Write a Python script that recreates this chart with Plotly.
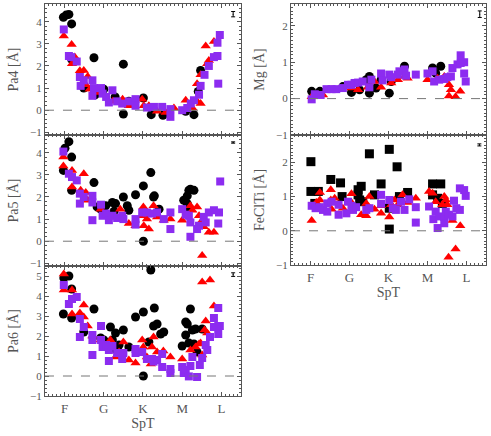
import plotly.graph_objects as go

# spectral type axis: F0=0, G0=10, K0=20, M0=30, L0=40
spt_vals = [0, 10, 20, 30, 40]
spt_text = ["F", "G", "K", "M", "L"]

# ---- Pa4 ----
pa4_black_x = [-0.3, 0.4, 1.1, 1.8, 1.8, 7.5, 15, 15, 4.9, 7.8, 10, 12.9, 16.4, 20.1, 22.1, 25.1, 30.9, 33, 34.7, 34.1]
pa4_black_y = [4.2, 4.3, 4.33, 3.9, 2.3, 2.37, 2.08, -0.17, 1.0, 0.7, 0.95, 0.6, 0.4, 0.55, -0.2, -0.23, -0.05, -0.2, 1.8, 0.85]
pa4_red_x = [-0.2, 1.8, 1.9, 2.6, 3.9, 4.9, 5.9, 5.4, 6.4, 8.9, 12.3, 14.8, 16.4, 19.8, 20.2, 21.5, 23.6, 25.8, 27.9, 30.9,
             32.6, 33.8, 33.8, 34.7, 36.4, 36, 38.1, 36.8, 34.7]
pa4_red_y = [3.35, 2.97, 2.1, 2.4, 1.78, 1.8, 1.52, 1.15, 0.95, 0.8, 0.4, 0.5, 0.2, 0.5, 0.2, 0.2, -0.05, -0.1, 0.1, 0.45,
             0.1, 0.4, 1.2, 1.6, 2.1, 2.9, 3.1, 2.25, 0.3]
pa4_purple_x = [-0.2, 1.1, 1.7, 3.1, 3.9, 4.9, 4.1, 7.1, 7.5, 7.1, 9.3, 9.7, 10.6, 11.3, 12.2, 13.4, 14.7, 16.4, 18.1, 18.1,
                21, 22.8, 24.9, 27, 27, 30, 31.3, 32.2, 33, 34.3, 34.7, 35.7, 36.8, 38.1, 39, 39, 39.6, 39.2]
pa4_purple_y = [3.65, 2.45, 2.4, 2.2, 1.5, 1.35, 1.1, 1.35, 1.0, 0.65, 1.0, 0.75, 0.6, 0.35, 0.9, 0.4, 0.3, 0.4, 0.5, 0.2,
                0.12, 0.15, 0.15, 0.05, -0.3, 0, 0.1, 0.3, 0.45, 0.7, 1.1, 1.6, 2.0, 2.4, 2.45, 3.05, 3.4, 1.2]

# ---- Pa5 ----
pa5_black_x = [0.1, 1.1, 1.8, -0.3, 1.8, 7.5, 8.3, 9.2, 10.5, 12.2, 13, 12.6, 15, 16, 16.4, 18.1, 20.1, 22, 20.1, 22.7,
               22.9, 24.1, 30.4, 31.3, 31.7, 32.1, 33, 31.3, 31.7]
pa5_black_y = [4.2, 4.5, 3.8, 3.2, 2.3, 2.65, 1.55, 1.45, 1.6, 1.75, 1.7, 1.35, 2.0, 1.6, 1.4, 2.1, 2.5, 3.1, 0.0, 2.0,
               2.05, 1.45, 1.85, 2.05, 2.3, 2.35, 2.3, 1.7, 1.45]
pa5_red_x = [-0.3, -0.3, 1.9, 1.9, 4.9, 4.1, 5.4, 5.9, 9.2, 10.9, 13, 14.2, 16.4, 18.1, 19.8, 20.1, 20.2, 21, 21.5, 22.7,
             23.6, 25.3, 27, 30, 32.1, 32.6, 33.8, 34.3, 35.5, 36.8, 38.1, 35.1, 34.7]
pa5_red_y = [3.8, 3.4, 3.2, 2.45, 3.05, 2.3, 2.2, 1.85, 1.45, 1.15, 1.1, 1.45, 0.8, 0.7, 1.15, 1.55, 0.7, 1.0, 0.55, 1.6,
             1.1, 0.95, 1.0, 0.95, 1.6, 1.4, 1.55, 1.15, 0.65, 0.4, 0.4, -0.65, 0.85]
pa5_purple_x = [-0.3, 1.1, 1.9, 3.1, 3.9, 3.9, 4.9, 7.1, 7.1, 7.1, 9.3, 9.7, 10.6, 11.3, 12.2, 13.4, 14.7, 15, 18.1, 18.1,
                19.8, 21, 22.3, 23.6, 25.3, 27, 27, 30, 30.9, 31.7, 32.1, 32.1, 33.8, 34.3, 35.5, 36, 36.8, 38.1, 39.2,
                39.4, 39.7]
pa5_purple_y = [4.05, 3.05, 2.9, 2.75, 2.15, 1.7, 2.0, 2.05, 1.75, 0.95, 1.65, 1.15, 1.25, 0.95, 1.15, 1.05, 1.15, 1.0, 1.0,
                0.75, 1.3, 1.3, 1.25, 1.3, 1.0, 0.55, 1.3, 1.45, 1.2, 1.15, 0.85, 0.2, 0.55, 0.7, 1.1, 0.85, 1.3, 1.4,
                0.8, 1.3, 2.7]

# ---- Pa6 ----
pa6_black_x = [-0.3, -0.2, 1.1, 1.8, 1.8, 4.9, 7.5, 9.2, 10, 11.7, 12.2, 13, 13, 15, 13.9, 16.4, 18.1, 20.1, 20.1, 22,
               21.5, 22.9, 22.7, 23.6, 24.5, 25.3, 30.9, 31.3, 32.1, 30.9, 32.6, 31.7, 33, 33.4, 33.8, 35.1, 30]
pa6_black_y = [3.1, 4.9, 5.0, 4.35, 2.9, 2.2, 3.35, 1.9, 1.8, 2.45, 1.8, 2.15, 1.35, 2.3, 1.55, 1.45, 2.95, 3.2, 0, 5.3,
               1.7, 3.4, 2.5, 2.6, 2.1, 2.2, 2.7, 2.6, 3.35, 2.05, 2.3, 1.65, 1.6, 2.35, 1.2, 2.35, 1.5]
pa6_red_x = [-0.2, -0.2, 1.9, 1.9, 3.9, 4.9, 4.9, 5.9, 7.1, 9.2, 10.9, 11.7, 13, 13.9, 15, 16.4, 18.1, 19.8, 20.1, 21,
             22, 22.3, 22.7, 23.6, 25.2, 27, 30, 32.1, 33.4, 34.3, 34.7, 35.1, 37.1, 36, 35.7, 36.4, 38.1, 35.1]
pa6_red_y = [5.1, 4.3, 4.3, 3.1, 3.15, 3.55, 2.95, 2.5, 2.0, 1.8, 1.55, 1.8, 0.95, 1.2, 1.7, 0.8, 0.65, 1.8, 1.45, 0.95,
             0.6, 1.45, 1.95, 1.2, 1.25, 0.95, 0.85, 1.3, 1.45, 1.6, 1.65, 4.7, 4.8, 2.75, 2.3, 2.15, 3.5, 1.05]
pa6_purple_x = [-0.2, 1.1, 1.9, 3.1, 3.9, 3.9, 4.9, 7.1, 7.1, 7.1, 9.3, 9.3, 9.7, 10.6, 11.3, 11.3, 12.2, 13.4, 14.7, 15,
                18.1, 18.1, 19.8, 21, 22.3, 22.7, 23.6, 24.9, 24.9, 27, 27, 30, 30.4, 30.9, 32.1, 31.7, 32.6, 33.8,
                34.5, 35.1, 36, 36.4, 37.1, 38.1, 38.1, 39.2, 39.2, 39.2, 39.6]
pa6_purple_y = [4.55, 3.6, 3.85, 3.95, 2.85, 1.95, 2.45, 2.05, 1.8, 1.05, 2.5, 1.8, 1.45, 1.55, 1.3, 0.75, 1.5, 1.15, 0.85,
                1.15, 1.35, 1.15, 1.2, 0.85, 0.85, 0.72, 0.8, 1.1, 0.45, 0.35, 0.15, 0.45, 0.15, 0.3, 0.5, -0.02, 0.95,
                -0.05, 0.55, 0.9, 1.55, 1.3, 1.95, 2.45, 2.9, 2.1, 2.5, 3.4, 2.5]

# ---- Mg ----
mg_black_x = [0.3, 2.4, 8.3, 10.5, 12.6, 14.3, 15.1, 15.1, 16.8, 18.1, 20.2, 20.7, 24.1, 31.3, 33.4, 32.1, 14.7]
mg_black_y = [0.2, 0.2, 0.33, 0.17, 0.24, 0.52, 0.61, 0.15, 0.29, 0.52, 0.15, 0.47, 0.89, 0.84, 0.89, 0.7, 0.47]
mg_red_x = [0.3, 3.2, 5.4, 7.5, 10.5, 12.2, 14.7, 16.4, 18.1, 20.7, 22.4, 24.1, 24.9, 30, 32.6, 35.5, 36, 35.5, 37.2, 38.4,
            34.3]
mg_red_y = [0.05, 0.1, 0.24, 0.26, 0.29, 0.24, 0.31, 0.47, 0.31, 0.43, 0.52, 0.61, 0.56, 0.52, 0.56, 0.38, 0.24, 0.07, 0.05,
            0.2, 0.61]
mg_purple_x = [0.3, 1.1, 2.6, 4.1, 5.4, 6.6, 8.3, 9.6, 10.5, 11.3, 12.2, 13.4, 15.1, 15.6, 18.1, 18.5, 20.2, 20.7, 22.4,
               22.8, 24.1, 24.5, 27, 30, 31.3, 31.7, 33, 34.3, 35.1, 36, 36.4, 37.7, 38.5, 39.4, 38.5, 39.4, 39.8]
mg_purple_y = [-0.02, 0.12, 0.1, 0.26, 0.26, 0.26, 0.29, 0.38, 0.38, 0.43, 0.44, 0.47, 0.31, 0.52, 0.69, 0.5, 0.66, 0.59,
               0.66, 0.75, 0.8, 0.63, 0.66, 0.69, 0.75, 0.47, 0.52, 0.54, 0.59, 0.61, 0.84, 0.94, 0.98, 1.0, 1.19, 0.69,
               0.47]

# ---- FeClTi ----
fe_black_x = [0.1, 0.1, 2.0, 1.1, 5.2, 7.7, 8.1, 12.2, 13, 12.6, 13.4, 15.1, 16.4, 18.1, 20.2, 20.2, 22.2, 22.8, 24.9,
              20.2, 31.3, 31.3, 33.4, 32.6, 33.8, 12.2]
fe_black_y = [2.02, 1.15, 1.15, 0.8, 1.5, 1.4, 1.0, 1.2, 1.3, 0.9, 0.85, 2.25, 1.05, 1.37, 2.38, 0.05, 1.87, 1.0, 1.12,
              0.66, 1.37, 1.05, 1.37, 0.95, 0.8, 1.05]
fe_red_x = [0.3, 1.5, 2.4, 2.4, 5.2, 5.2, 6.2, 5.4, 8.3, 10.5, 10.5, 13, 14.3, 14.3, 15.1, 16.4, 18.1, 18.1, 20.2, 20.7,
            21.5, 22.4, 23.6, 24.9, 27, 30.4, 31.3, 32.1, 34.3, 34.7, 35.1, 33.8, 36.4, 38.4, 37.2, 35.4]
fe_red_y = [0.3, 0.83, 1.12, 0.9, 1.2, 0.9, 0.95, 0.63, 0.66, 0.83, 1.08, 0.47, 0.44, 0.8, 1.0, 0.63, 0.51, 0.73, 0.4,
            0.76, 0.9, 0.76, 1.05, 0.83, 0.95, 1.15, 1.1, 0.85, 1.0, 0.9, 0.76, 0.76, 0.3, 0.15, -0.53, -0.77]
fe_purple_x = [0.3, 1.3, 2.4, 3.2, 4.3, 4.3, 5.4, 7.2, 7.2, 9.2, 9.6, 10.5, 10.9, 11.7, 14.3, 15.1, 18.1, 18.1, 20.2,
               21.1, 21.9, 23.2, 24.1, 25.3, 27, 27, 30.4, 31.5, 32.1, 32.6, 33, 34.3, 34.7, 34.3, 35.5, 36.4, 36.8,
               37.4, 38.3, 38.3, 39.4, 39.8]
fe_purple_y = [0.73, 0.66, 0.69, 0.61, 0.56, 0.8, 0.85, 0.76, 0.47, 0.51, 0.85, 0.73, 0.61, 0.69, 0.61, 0.66, 0.79, 1.05,
               0.9, 0.66, 0.61, 0.85, 0.61, 0.92, 0.24, 0.69, 0.71, 0.34, 0.56, 0.08, 0.42, 0.4, 0.56, 0.22, 0.47, 0.42,
               0.88, 0.66, 0.61, 1.24, 1.19, 1.02]

# typical error bar shown in the top right corner of each panel: x, y, err
err_bars = [(43, 4.34, 0.12), (43, 4.46, 0.03), (43, 5.07, 0.09), (43.4, 2.32, 0.09), (43.3, 2.51, 0.03)]

BLACK = "black"
RED = "#ff0000"
PURPLE = "#8c2cf0"
GREY = "#555555"
FONT = "Liberation Serif"

panels = [
    # ylabel, yrange, minor dtick, x domain, y domain, data, black symbol, show x labels
    ("Pa4 [Å]", [-1.12, 4.8], 0.2, [0.0916, 0.4908], [0.6904, 0.9908],
     (pa4_black_x, pa4_black_y, pa4_red_x, pa4_red_y, pa4_purple_x, pa4_purple_y), "circle", False),
    ("Pa5 [Å]", [-1.12, 4.8], 0.2, [0.0916, 0.4908], [0.3899, 0.6904],
     (pa5_black_x, pa5_black_y, pa5_red_x, pa5_red_y, pa5_purple_x, pa5_purple_y), "circle", False),
    ("Pa6 [Å]", [-1.0, 5.5], 0.2, [0.0916, 0.4908], [0.0917, 0.3899],
     (pa6_black_x, pa6_black_y, pa6_red_x, pa6_red_y, pa6_purple_x, pa6_purple_y), "circle", True),
    ("Mg [Å]", [-1.0, 2.6], 0.1, [0.5927, 0.9898], [0.6904, 0.9908],
     (mg_black_x, mg_black_y, mg_red_x, mg_red_y, mg_purple_x, mg_purple_y), "circle", False),
    ("FeClTi [Å]", [-1.0, 2.8], 0.1, [0.5927, 0.9898], [0.3922, 0.6904],
     (fe_black_x, fe_black_y, fe_red_x, fe_red_y, fe_purple_x, fe_purple_y), "square", True),
]

fig = go.Figure()
layout = {}
shapes = []

for i, (ylab, yr, ymin_dt, xdom, ydom, data, bsym, showx) in enumerate(panels):
    n = i + 1
    xa = "x" if n == 1 else f"x{n}"
    ya = "y" if n == 1 else f"y{n}"
    bx, by, rx, ry, px, py = data

    fig.add_trace(go.Scatter(x=bx, y=by, mode="markers", xaxis=xa, yaxis=ya,
                             marker=dict(symbol=bsym, size=9, color=BLACK, line=dict(width=0))))
    fig.add_trace(go.Scatter(x=rx, y=ry, mode="markers", xaxis=xa, yaxis=ya,
                             marker=dict(symbol="triangle-up", size=9, color=RED, line=dict(width=0))))
    fig.add_trace(go.Scatter(x=px, y=py, mode="markers", xaxis=xa, yaxis=ya,
                             marker=dict(symbol="square", size=8, color=PURPLE, line=dict(width=0))))

    ex, ey, ee = err_bars[i]
    fig.add_trace(go.Scatter(x=[ex], y=[ey], mode="markers", xaxis=xa, yaxis=ya,
                             marker=dict(size=1, color=BLACK),
                             error_y=dict(type="data", array=[ee], color=BLACK, thickness=1, width=2)))

    # dashed zero line
    shapes.append(dict(type="line", xref=f"{xa} domain", yref=ya, x0=0, x1=1, y0=0, y1=0,
                       line=dict(color="#777777", width=1, dash="dash")))

    layout["xaxis" if n == 1 else f"xaxis{n}"] = dict(
        domain=xdom, anchor=ya, range=[-5, 45], automargin=False,
        tickvals=spt_vals, ticktext=spt_text, showticklabels=showx,
        ticks="inside", ticklen=4, tickcolor=GREY, mirror="allticks",
        showline=True, linecolor=GREY, linewidth=1, showgrid=False, zeroline=False,
        minor=dict(ticks="inside", dtick=1, ticklen=2, tickcolor=GREY, showgrid=False),
        tickfont=dict(family=FONT, size=13, color=GREY),
        title=dict(text="SpT", font=dict(family=FONT, size=14, color=GREY), standoff=2) if showx else None,
    )
    layout["yaxis" if n == 1 else f"yaxis{n}"] = dict(
        domain=ydom, anchor=xa, range=yr, dtick=1, tick0=0, automargin=False,
        ticks="inside", ticklen=4, tickcolor=GREY, mirror="allticks",
        showline=True, linecolor=GREY, linewidth=1, showgrid=False, zeroline=False,
        minor=dict(ticks="inside", dtick=ymin_dt, ticklen=2, tickcolor=GREY, showgrid=False),
        tickfont=dict(family=FONT, size=11, color=GREY),
        title=dict(text=ylab, font=dict(family=FONT, size=14, color=GREY), standoff=8),
    )

fig.update_layout(
    width=491, height=436,
    margin=dict(l=0, r=0, t=0, b=0, autoexpand=False),
    paper_bgcolor="white", plot_bgcolor="white",
    showlegend=False,
    shapes=shapes,
    **layout,
)

# the page body has a default 8px margin; drop it so the figure sits at the window corner
fig.write_html("out.html", config={"displayModeBar": False},
               post_script="document.body.style.margin='0';document.body.style.overflow='hidden';")
